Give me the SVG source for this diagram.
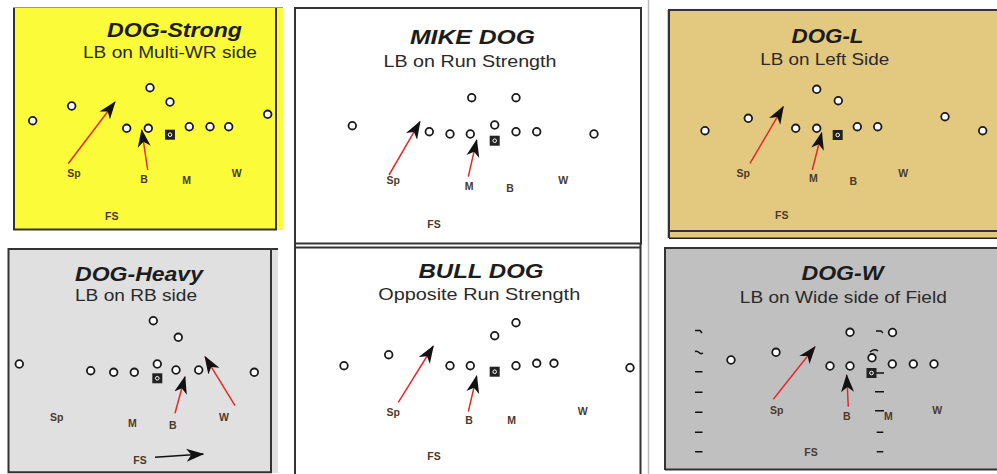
<svg xmlns="http://www.w3.org/2000/svg" width="997" height="474" viewBox="0 0 997 474">
<style>
.ttl{font-family:"Liberation Sans",Arial,sans-serif;font-weight:bold;font-style:italic;font-size:21px;fill:#1c1c1c;text-anchor:middle}
.sub{font-family:"Liberation Sans",Arial,sans-serif;font-size:16.5px;fill:#2a2a2a;text-anchor:middle}
.lbl{font-family:"Liberation Sans",Arial,sans-serif;font-weight:bold;font-size:10.5px;fill:#4b3a2c;text-anchor:middle}
.p{fill:#fff;stroke:#1a1a1a;stroke-width:1.8}
.bd{fill:none;stroke:#333;stroke-width:2}
.ra{stroke:#e52a2a;stroke-width:1.5;fill:none;marker-end:url(#ah)}
.ka{stroke:#111;stroke-width:1.5;fill:none;marker-end:url(#ah)}
.hm{stroke:#111;stroke-width:1.5;fill:none}
</style>
<defs>
<marker id="ah" markerUnits="userSpaceOnUse" markerWidth="18" markerHeight="14" viewBox="0 0 18 14" refX="17" refY="7" orient="auto">
<path d="M0,0.5 L18,7 L0,13.5 L5,7 Z" fill="#111"/>
</marker>
<g id="ctr"><rect x="-5" y="-5" width="10" height="10" fill="#222"/><circle r="1.8" fill="none" stroke="#fff" stroke-width="1"/></g>
</defs>
<rect width="997" height="474" fill="#fff"/>
<line x1="648.5" y1="0" x2="648.5" y2="474" stroke="#bbb" stroke-width="1.5"/>

<!-- Panel 1 DOG-Strong -->
<g id="dog-strong">
<rect x="13" y="7" width="270" height="223" fill="#fbfb3a"/>
<path d="M14,7 V229.5 H276 V7" class="bd"/>
<line x1="13" y1="7.5" x2="283" y2="7.5" stroke="#999" stroke-width="1"/>
<text class="ttl" x="174.5" y="37" textLength="135" lengthAdjust="spacingAndGlyphs">DOG-Strong</text>
<text class="sub" x="170" y="58" textLength="174" lengthAdjust="spacingAndGlyphs">LB on Multi-WR side</text>
<g id="p1-players">
<circle class="p" cx="32.7" cy="120.7" r="3.8"/><circle class="p" cx="71.7" cy="106" r="3.8"/>
<circle class="p" cx="150" cy="87.7" r="3.8"/><circle class="p" cx="170" cy="102" r="3.8"/>
<circle class="p" cx="126.7" cy="128.3" r="3.8"/><circle class="p" cx="148.3" cy="128.3" r="3.8"/>
<circle class="p" cx="189.3" cy="126.7" r="3.8"/><circle class="p" cx="210" cy="126.7" r="3.8"/>
<circle class="p" cx="228.7" cy="126.7" r="3.8"/><circle class="p" cx="267.7" cy="114.3" r="3.8"/>
<use href="#ctr" x="170" y="134.7"/>
</g>
<g id="p1-labels">
<text class="lbl" x="74" y="177">Sp</text><text class="lbl" x="144" y="183">B</text>
<text class="lbl" x="186.7" y="184">M</text><text class="lbl" x="236.7" y="176.5">W</text>
<text class="lbl" x="111.7" y="220">FS</text>
</g>
</g>

<!-- Panel 2 MIKE DOG -->
<g id="mike-dog">
<rect x="295" y="8" width="346" height="235.5" fill="#fff" class="bd"/>
<text class="ttl" x="472.5" y="43.5" textLength="125" lengthAdjust="spacingAndGlyphs">MIKE DOG</text>
<text class="sub" x="470" y="66.5" textLength="173" lengthAdjust="spacingAndGlyphs">LB on Run Strength</text>
<g id="p2-players">
<circle class="p" cx="352.3" cy="125.7" r="3.8"/>
<circle class="p" cx="471.7" cy="97.7" r="3.8"/><circle class="p" cx="516" cy="97.7" r="3.8"/>
<circle class="p" cx="429.3" cy="131.7" r="3.8"/><circle class="p" cx="450" cy="134" r="3.8"/>
<circle class="p" cx="470.3" cy="134" r="3.8"/><circle class="p" cx="494.7" cy="125" r="3.8"/>
<circle class="p" cx="516" cy="131.7" r="3.8"/><circle class="p" cx="536.7" cy="131.7" r="3.8"/>
<circle class="p" cx="594" cy="134" r="3.8"/>
<use href="#ctr" x="494.7" y="140.7"/>
</g>
<g id="p2-labels">
<text class="lbl" x="393.3" y="184">Sp</text><text class="lbl" x="469" y="189.5">M</text>
<text class="lbl" x="510" y="192">B</text><text class="lbl" x="563.3" y="184">W</text>
<text class="lbl" x="434" y="228">FS</text>
</g>
</g>

<!-- Panel 3 DOG-L -->
<g id="dog-l">
<rect x="667" y="10" width="330" height="228" fill="#e3c97f"/>
<path d="M669,238 V10 H997" class="bd"/>
<line x1="669" y1="231" x2="997" y2="231" stroke="#333" stroke-width="2"/>
<line x1="669" y1="238.3" x2="997" y2="238.3" stroke="#222" stroke-width="1.6"/>
<text class="ttl" x="827.5" y="43.3" textLength="72" lengthAdjust="spacingAndGlyphs">DOG-L</text>
<text class="sub" x="824.7" y="65" textLength="129" lengthAdjust="spacingAndGlyphs">LB on Left Side</text>
<g id="p3-players">
<circle class="p" cx="705" cy="130.7" r="3.8"/><circle class="p" cx="748.3" cy="118.3" r="3.8"/>
<circle class="p" cx="816.7" cy="89.3" r="3.8"/><circle class="p" cx="838.3" cy="100.7" r="3.8"/>
<circle class="p" cx="795.7" cy="128.3" r="3.8"/><circle class="p" cx="816.7" cy="128.3" r="3.8"/>
<circle class="p" cx="857.3" cy="126.7" r="3.8"/><circle class="p" cx="877.7" cy="126.7" r="3.8"/>
<circle class="p" cx="945" cy="116.7" r="3.8"/><circle class="p" cx="982.7" cy="130.7" r="3.8"/>
<use href="#ctr" x="837.7" y="135"/>
</g>
<g id="p3-labels">
<text class="lbl" x="743.3" y="177.3">Sp</text><text class="lbl" x="813.3" y="182.3">M</text>
<text class="lbl" x="853.3" y="184.7">B</text><text class="lbl" x="903.3" y="176.7">W</text>
<text class="lbl" x="781.7" y="219">FS</text>
</g>
</g>

<!-- Panel 4 DOG-Heavy -->
<g id="dog-heavy">
<rect x="8" y="249" width="270" height="224" fill="#e0e0e0"/>
<path d="M8.5,249 V472.3 H271 V249 Z" class="bd"/>
<line x1="271" y1="249" x2="278" y2="249" stroke="#333" stroke-width="2"/>
<text class="ttl" x="139" y="280.5" textLength="128" lengthAdjust="spacingAndGlyphs">DOG-Heavy</text>
<text class="sub" x="136" y="301" textLength="122" lengthAdjust="spacingAndGlyphs">LB on RB side</text>
<g id="p4-players">
<circle class="p" cx="19.3" cy="364" r="3.8"/>
<circle class="p" cx="153.3" cy="320.7" r="3.8"/><circle class="p" cx="178.3" cy="337.3" r="3.8"/>
<circle class="p" cx="90.7" cy="370.7" r="3.8"/><circle class="p" cx="113.7" cy="372.3" r="3.8"/>
<circle class="p" cx="134.3" cy="372.3" r="3.8"/><circle class="p" cx="157.3" cy="364" r="3.8"/>
<circle class="p" cx="176" cy="370" r="3.8"/><circle class="p" cx="198.7" cy="370" r="3.8"/>
<circle class="p" cx="254.3" cy="372.3" r="3.8"/>
<use href="#ctr" x="157.3" y="378.3"/>
</g>
<g id="p4-labels">
<text class="lbl" x="56.7" y="420.7">Sp</text><text class="lbl" x="132.3" y="426.7">M</text>
<text class="lbl" x="172.7" y="429">B</text><text class="lbl" x="224" y="420.7">W</text>
<text class="lbl" x="140" y="464">FS</text>
</g>
</g>

<!-- Panel 5 BULL DOG -->
<g id="bull-dog">
<line x1="295" y1="247.5" x2="641" y2="247.5" stroke="#333" stroke-width="2"/>
<line x1="295" y1="243" x2="295" y2="474" stroke="#333" stroke-width="2"/>
<line x1="640.5" y1="243" x2="640.5" y2="474" stroke="#333" stroke-width="2"/>
<text class="ttl" x="481" y="278.3" textLength="125" lengthAdjust="spacingAndGlyphs">BULL DOG</text>
<text class="sub" x="479.2" y="300" textLength="202" lengthAdjust="spacingAndGlyphs">Opposite Run Strength</text>
<g id="p5-players">
<circle class="p" cx="344" cy="365.7" r="3.8"/><circle class="p" cx="388.7" cy="354.7" r="3.8"/>
<circle class="p" cx="516" cy="322.7" r="3.8"/><circle class="p" cx="494.7" cy="335.7" r="3.8"/>
<circle class="p" cx="450" cy="365.7" r="3.8"/><circle class="p" cx="470.3" cy="365.7" r="3.8"/>
<circle class="p" cx="516" cy="365.7" r="3.8"/><circle class="p" cx="536.7" cy="363.3" r="3.8"/>
<circle class="p" cx="554" cy="363.3" r="3.8"/><circle class="p" cx="630" cy="367.7" r="3.8"/>
<use href="#ctr" x="494.7" y="371.7"/>
</g>
<g id="p5-labels">
<text class="lbl" x="393.3" y="415.7">Sp</text><text class="lbl" x="469" y="424">B</text>
<text class="lbl" x="511.7" y="424">M</text><text class="lbl" x="582.7" y="414.7">W</text>
<text class="lbl" x="434" y="460">FS</text>
</g>
</g>

<!-- Panel 6 DOG-W -->
<g id="dog-w">
<rect x="664" y="247" width="333" height="223" fill="#c0c0c0"/>
<path d="M665,470 V248 H997" class="bd"/>
<line x1="665" y1="469.5" x2="997" y2="469.5" stroke="#333" stroke-width="2"/>
<text class="ttl" x="842.5" y="280" textLength="82" lengthAdjust="spacingAndGlyphs">DOG-W</text>
<text class="sub" x="843.3" y="302.7" textLength="207" lengthAdjust="spacingAndGlyphs">LB on Wide side of Field</text>
<g id="p6-hashes">
<path class="hm" d="M695,330.5 H700 L702,333"/>
<path class="hm" d="M695,351.5 Q697,350.5 699,352.5 T703,353"/>
<path class="hm" d="M695,371.7 H702.5 M695,392.3 H702.5 M695,412.3 H702.5 M695,432.3 H702.5 M695,451.7 H702.5"/>
<path class="hm" d="M876,331 H881 L883,333"/>
<path class="hm" d="M870,352 Q874,348 878,351"/>
<path class="hm" d="M876,373 H884 M875,391.7 H884 M875,410.7 H884 M876.7,432.3 H883.3 M876.7,451.7 H883.3"/>
</g>
<g id="p6-players">
<circle class="p" cx="731" cy="360" r="3.8"/><circle class="p" cx="776" cy="352.3" r="3.8"/>
<circle class="p" cx="850" cy="332.3" r="3.8"/><circle class="p" cx="892.5" cy="332.5" r="3.8"/>
<circle class="p" cx="830" cy="366" r="3.8"/><circle class="p" cx="850" cy="366" r="3.8"/>
<circle class="p" cx="872" cy="357.8" r="3.8"/><circle class="p" cx="892.3" cy="364" r="3.8"/>
<circle class="p" cx="913.3" cy="364" r="3.8"/><circle class="p" cx="934" cy="364" r="3.8"/>
<use href="#ctr" x="871.5" y="373"/>
</g>
<g id="p6-labels">
<text class="lbl" x="776.7" y="414">Sp</text><text class="lbl" x="846.7" y="419.7">B</text>
<text class="lbl" x="888.3" y="419.7">M</text><text class="lbl" x="937.3" y="414">W</text>
<text class="lbl" x="811" y="456">FS</text>
</g>
</g>

<!-- Connectors -->
<g id="connectors">
<line class="ra" x1="68.3" y1="163.5" x2="115" y2="102"/>
<line class="ra" x1="147.7" y1="170" x2="141.7" y2="130"/>
<line class="ra" x1="389" y1="175" x2="420" y2="121.7"/>
<line class="ra" x1="468.3" y1="176.7" x2="476.7" y2="140"/>
<line class="ra" x1="750" y1="163.3" x2="783.3" y2="106.7"/>
<line class="ra" x1="812.3" y1="170" x2="821.7" y2="132.7"/>
<line class="ra" x1="175" y1="413.3" x2="185" y2="376.7"/>
<line class="ra" x1="235" y1="405.7" x2="205" y2="356.7"/>
<line class="ka" x1="155" y1="457.3" x2="203.3" y2="454"/>
<line class="ra" x1="398.3" y1="402.3" x2="433.3" y2="346"/>
<line class="ra" x1="468.3" y1="411.7" x2="476.7" y2="376"/>
<line class="ra" x1="773.3" y1="399.3" x2="815" y2="346.7"/>
<line class="ra" x1="848.3" y1="406.7" x2="846.7" y2="375"/>
</g>
</svg>
